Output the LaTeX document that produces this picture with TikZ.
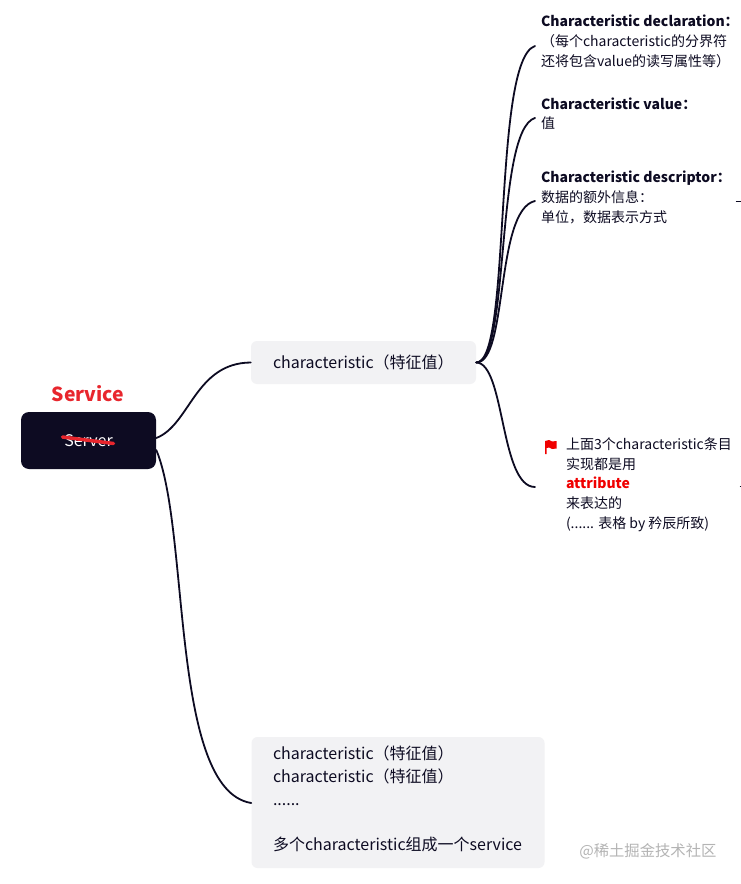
\documentclass[tikz,border=0pt]{standalone}
\usepackage{fontspec}
\setmainfont{Noto Sans CJK SC}
\definecolor{inkdark}{HTML}{0D0B22}
\definecolor{panel}{HTML}{F2F2F4}
\definecolor{svcred}{HTML}{E8262D}
\definecolor{flagred}{HTML}{F00000}
\definecolor{wm}{HTML}{B4B4B4}
\tikzset{
  x=0.75pt,y=-0.75pt,
  link/.style={draw=inkdark,line width=1.35pt,line cap=round},
  rootbox/.style={fill=inkdark,rounded corners=6pt,minimum width=101.25pt,minimum height=42.75pt,inner sep=0pt,text=white,font=\fontsize{12}{15}\selectfont},
  panelbox/.style={fill=panel,rounded corners=4.5pt,inner sep=0pt},
  big/.style={text=inkdark,font=\fontsize{12}{17}\selectfont,inner sep=0pt,outer sep=0pt},
  note/.style={text=inkdark,align=left,anchor=north west,inner sep=0pt,outer sep=0pt,font=\fontsize{10.5}{14.8}\selectfont},
}
\begin{document}
\begin{tikzpicture}
\useasboundingbox (0,0) rectangle (741,884);
\fill[white] (0,0) rectangle (741,884);
\node[rootbox] (root) at (88.5,440.5) {Server};
\node[text=svcred,inner sep=0pt,font=\fontsize{14.5}{17}\bfseries\selectfont] (svc) at (88,393.5) {Service};
\draw[svcred,line width=2.6pt,line cap=round] (root.center) ++(-26,-3.5) coordinate (sa) -- ++(51,6.5) coordinate (sb);
\node[panelbox,minimum width=168.75pt,minimum height=32.25pt] (c1) at (363.5,362.5) {};
\node[big,anchor=west] (c1t) at (273,362) {characteristic（特征值）};
\node[panelbox,minimum width=219.75pt,minimum height=98.25pt] (c2) at (398,802.5) {};
\node[big,anchor=north west,align=left] (c2t) at (273,746) {characteristic（特征值）\\characteristic（特征值）\\......\\[17pt]多个characteristic组成一个service};
\coordinate (j1) at (535,46);
\coordinate (j2) at (535,118);
\coordinate (j3) at (535,201);
\coordinate (j4) at (535,487);
\path[link] (root.east |- 0,438) .. controls (190,425) and (195,363) .. (c1.west);
\path[link] (root.east |- 0,450) .. controls (190,530) and (170,790) .. (c2.west |- 0,803);
\path[link] (c1.east) .. controls (512,363) and (492,60) .. (j1);
\path[link] (c1.east) .. controls (510,363) and (495,130) .. (j2);
\path[link] (c1.east) .. controls (508,363) and (495,210) .. (j3);
\path[link] (c1.east) .. controls (505,363) and (500,487) .. (j4);
\node[note] (n1) at (541,14.5) {\textbf{Characteristic declaration：}\\[0.5pt]（每个characteristic的分界符\\还将包含value的读写属性等）};
\node[note] (n2) at (541,97.5) {\textbf{Characteristic value：}\\值};
\node[note] (n3) at (541,171) {\textbf{Characteristic descriptor：}\\数据的额外信息：\\单位，数据表示方式};
\node[note] (n4) at (566,437.5) {上面3个characteristic条目\\实现都是用\\\textcolor{flagred}{\textbf{attribute}}\\来表达的\\(...... 表格 by 矜辰所致)};
\fill[flagred] (545,441) -- (549,440) -- (552,441.5) -- (556.5,441) -- (556.5,448.5) -- (552,449) -- (549,447.5) -- (546.5,448) -- (546.5,454) -- (545,454) -- cycle;
\draw[inkdark,line width=1pt] (735.5,201.5) -- (741,201.5);
\draw[inkdark,line width=1pt] (739.5,486.5) -- (741,486.5);
\node[text=wm,inner sep=0pt,anchor=west,font=\fontsize{11.5}{14}\selectfont] (wmk) at (579,851.5) {@稀土掘金技术社区};
\end{tikzpicture}
\end{document}
